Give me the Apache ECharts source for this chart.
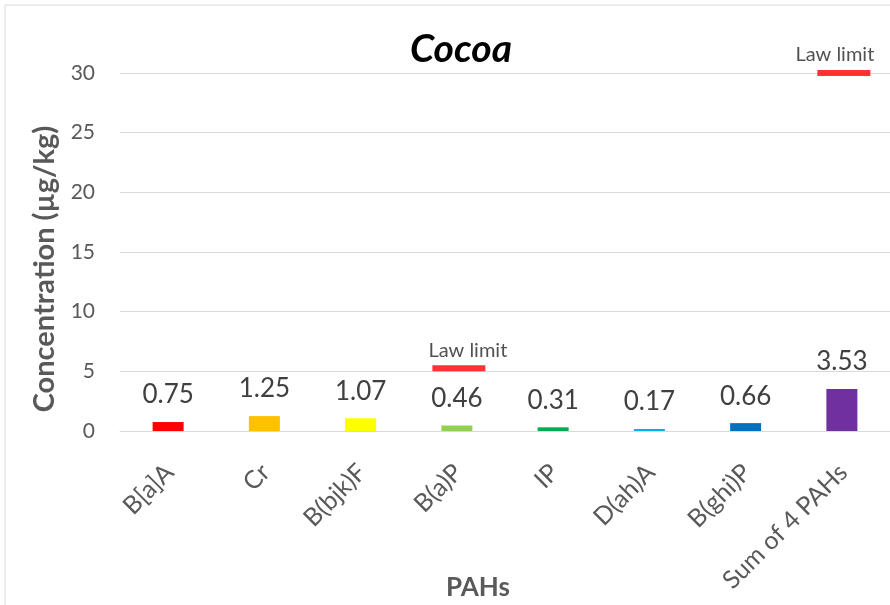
<!DOCTYPE html>
<html>
<head>
<meta charset="utf-8">
<script src="https://cdn.jsdelivr.net/npm/echarts@6/dist/echarts.min.js"></script>
<style>
  html, body { margin: 0; padding: 0; background: #fff; }
  #chart { width: 890px; height: 605px; }
</style>
</head>
<body>
<div id="chart"></div>
<script>
// PAH concentrations measured in cocoa (µg/kg)
const categories = ['B[a]A', 'Cr', 'B(bjk)F', 'B(a)P', 'IP', 'D(ah)A', 'B(ghi)P', 'Sum of 4 PAHs'];
const concentrations = [0.75, 1.25, 1.07, 0.46, 0.31, 0.17, 0.66, 3.53];
// Regulatory maximum levels (only for B(a)P and the sum of 4 PAHs)
const lawLimits = [null, null, null, 5, null, null, null, 30];
const barColors = ['#FF0000', '#FFC000', '#FFFF00', '#92D050', '#00B050', '#00B0F0', '#0070C0', '#7030A0'];
const yTicks = [0, 5, 10, 15, 20, 25, 30];

const FONT = 'Lato, "Open Sans", "Liberation Sans", sans-serif';
const GREY = '#595959';

const chart = echarts.init(document.getElementById('chart'), null, { renderer: 'canvas' });

chart.setOption({
  animation: false,
  backgroundColor: '#ffffff',
  textStyle: { fontFamily: FONT },
  graphic: [
    {
      type: 'rect',
      shape: { x: 5, y: 5, width: 900, height: 620 },
      style: { fill: 'none', stroke: '#d9d9d9', lineWidth: 1 },
      silent: true
    },
    {
      // value axis title
      type: 'text',
      x: 45,
      y: 269,
      rotation: Math.PI / 2,
      style: {
        text: 'Concentration (µg/kg)',
        fontFamily: FONT,
        fontSize: 29,
        fontWeight: 'bold',
        fill: GREY,
        align: 'center',
        verticalAlign: 'middle'
      },
      silent: true
    },
    {
      // category axis title
      type: 'text',
      x: 478,
      y: 588,
      style: {
        text: 'PAHs',
        fontFamily: FONT,
        fontSize: 26,
        fontWeight: 'bold',
        fill: GREY,
        align: 'center',
        verticalAlign: 'middle'
      },
      silent: true
    }
  ],
  title: {
    text: 'Cocoa',
    left: 456,
    top: 25,
    textAlign: 'center',
    textStyle: { fontFamily: FONT, fontSize: 39, fontWeight: 'bold', fontStyle: 'italic', color: '#000' }
  },
  grid: { left: 120, right: -1, top: 73, bottom: 174, containLabel: false },
  xAxis: {
    type: 'category',
    data: categories,
    axisLine: { lineStyle: { color: '#d9d9d9', width: 1 } },
    axisTick: { show: false },
    axisLabel: {
      rotate: 45,
      align: 'right',
      verticalAlign: 'top',
      lineHeight: 4,
      fontSize: 25,
      color: GREY,
      margin: 36,
      fontFamily: FONT,
      interval: 0
    }
  },
  yAxis: {
    type: 'value',
    min: yTicks[0],
    max: yTicks[yTicks.length - 1],
    interval: 5,
    axisLine: { show: false },
    axisTick: { show: false },
    axisLabel: { fontSize: 21, color: GREY, margin: 25, fontFamily: FONT },
    splitLine: { lineStyle: { color: '#d9d9d9', width: 1 } }
  },
  series: [
    {
      type: 'bar',
      barWidth: 31,
      data: concentrations.map((v, i) => ({ value: v, itemStyle: { color: barColors[i] } })),
      label: {
        show: true,
        position: 'top',
        distance: 14,
        fontSize: 26,
        color: '#404040',
        fontFamily: FONT,
        formatter: p => p.value.toFixed(2)
      }
    },
    {
      type: 'scatter',
      symbol: 'rect',
      symbolSize: [53, 6],
      itemStyle: { color: '#FF0000' },
      data: lawLimits.map((v, i) => v === null ? null : ({
        value: v,
        symbolOffset: i === 7 ? [2, 0] : [2, -3],
        label: { offset: i === 7 ? [-9, 0] : [9, 0] }
      })),
      label: {
        show: true,
        position: 'top',
        distance: 5,
        fontSize: 20,
        color: '#262626',
        fontFamily: FONT,
        formatter: 'Law limit'
      },
      z: 5
    }
  ]
});
</script>
</body>
</html>
